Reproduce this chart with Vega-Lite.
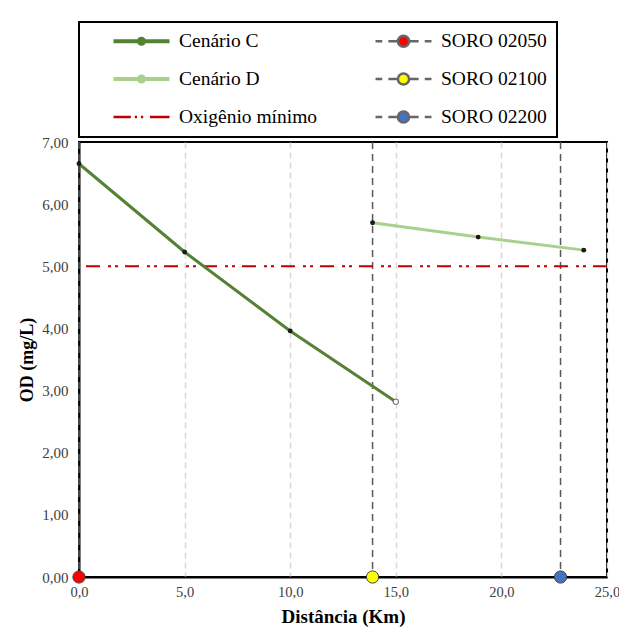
{
  "$schema": "https://vega.github.io/schema/vega-lite/v6.json",
  "width": 528,
  "height": 435,
  "autosize": {"type": "none"},
  "padding": {"left": 79, "top": 142, "right": 12, "bottom": 55},
  "background": "#ffffff",
  "datasets": {
    "cenarios": [
      {"serie": "Cenário C", "km": 0, "od": 6.65},
      {"serie": "Cenário C", "km": 5, "od": 5.23},
      {"serie": "Cenário C", "km": 10, "od": 3.96},
      {"serie": "Cenário C", "km": 15, "od": 2.82},
      {"serie": "Cenário D", "km": 13.9, "od": 5.70},
      {"serie": "Cenário D", "km": 18.9, "od": 5.47},
      {"serie": "Cenário D", "km": 23.9, "od": 5.26}
    ],
    "estacoes": [
      {"serie": "SORO 02050", "km": 0, "od": 0},
      {"serie": "SORO 02100", "km": 13.9, "od": 0},
      {"serie": "SORO 02200", "km": 22.8, "od": 0}
    ],
    "minimo": [{"serie": "Oxigênio mínimo", "od": 5}],
    "legenda": [
      {"serie": "Cenário C"},
      {"serie": "Cenário D"},
      {"serie": "Oxigênio mínimo"},
      {"serie": "SORO 02050"},
      {"serie": "SORO 02100"},
      {"serie": "SORO 02200"}
    ]
  },
  "layer": [
    {
      "data": {"name": "estacoes"},
      "mark": {"type": "rule", "color": "#595959", "strokeWidth": 1.5, "strokeDash": [7, 5]},
      "encoding": {
        "x": {
          "field": "km", "type": "quantitative",
          "scale": {"domain": [0, 25], "nice": false, "zero": false},
          "axis": {
            "values": [0, 5, 10, 15, 20, 25],
            "labelExpr": "replace(format(datum.value, '.1f'), '.', ',')",
            "title": "Distância (Km)",
            "titleFontSize": 19,
            "labelFontSize": 14.5,
            "grid": true, "gridColor": "#d9d9d9", "gridDash": [6, 4], "gridWidth": 1.5,
            "ticks": false, "domainColor": "#000000", "domainWidth": 2,
            "labelFlush": false,
            "labelPadding": 8, "titlePadding": 9
          }
        }
      }
    },
    {
      "data": {"name": "minimo"},
      "mark": {"type": "rule", "color": "#c00000", "strokeWidth": 2, "strokeDash": [14, 7, 3, 4, 3, 8]},
      "encoding": {
        "y": {
          "field": "od", "type": "quantitative",
          "scale": {"domain": [0, 7], "nice": false},
          "axis": {
            "values": [0, 1, 2, 3, 4, 5, 6, 7],
            "labelExpr": "replace(format(datum.value, '.2f'), '.', ',')",
            "title": "OD (mg/L)",
            "titleFontSize": 18,
            "grid": false, "ticks": false, "domainColor": "#000000", "domainWidth": 2,
            "labelFlush": false,
            "labelPadding": 11, "titlePadding": 5
          }
        }
      }
    },
    {
      "data": {"name": "cenarios"},
      "mark": {"type": "line", "strokeWidth": 3},
      "encoding": {
        "x": {"field": "km", "type": "quantitative"},
        "y": {"field": "od", "type": "quantitative"},
        "color": {
          "field": "serie", "type": "nominal",
          "scale": {
            "domain": ["Cenário C", "Cenário D", "SORO 02050", "SORO 02100", "SORO 02200"],
            "range": ["#548235", "#a9d18e", "#ff0000", "#ffff00", "#4472c4"]
          },
          "legend": null
        }
      }
    },
    {
      "data": {"name": "cenarios"},
      "transform": [{"filter": "!(datum.serie == 'Cenário C' && datum.km == 15)"}],
      "mark": {"type": "point", "filled": true, "opacity": 1, "color": "#1a1a1a", "size": 24},
      "encoding": {
        "x": {"field": "km", "type": "quantitative"},
        "y": {"field": "od", "type": "quantitative"}
      }
    },
    {
      "data": {"name": "cenarios"},
      "transform": [{"filter": "datum.serie == 'Cenário C' && datum.km == 15"}],
      "mark": {"type": "point", "filled": true, "opacity": 1, "fill": "#ffffff", "stroke": "#595959", "strokeWidth": 1, "size": 30},
      "encoding": {
        "x": {"field": "km", "type": "quantitative"},
        "y": {"field": "od", "type": "quantitative"}
      }
    },
    {
      "data": {"name": "estacoes"},
      "mark": {"type": "point", "filled": true, "opacity": 1, "stroke": "#404040", "strokeWidth": 1, "size": 150},
      "encoding": {
        "x": {"field": "km", "type": "quantitative"},
        "y": {"field": "od", "type": "quantitative"},
        "color": {
          "field": "serie", "type": "nominal",
          "scale": {
            "domain": ["Cenário C", "Cenário D", "SORO 02050", "SORO 02100", "SORO 02200"],
            "range": ["#548235", "#a9d18e", "#ff0000", "#ffff00", "#4472c4"]
          },
          "legend": null
        }
      }
    },
    {
      "data": {"name": "legenda"},
      "transform": [{"filter": "false"}],
      "mark": {"type": "point", "filled": true, "opacity": 1},
      "encoding": {
        "shape": {
          "field": "serie", "type": "nominal",
          "scale": {
            "domain": ["Cenário C", "Cenário D", "Oxigênio mínimo", "SORO 02050", "SORO 02100", "SORO 02200"],
            "range": [
              "M-1,-0.03H1M-1,0.03H1M0.12,0A0.12,0.12,0,1,1,-0.12,0A0.12,0.12,0,1,1,0.12,0Z",
              "M-1,-0.03H1M-1,0.03H1M0.12,0A0.12,0.12,0,1,1,-0.12,0A0.12,0.12,0,1,1,0.12,0Z",
              "M-1,0H-0.38M-0.24,0H-0.16M-0.02,0H0.06M0.3,0H1",
              "M-1,0H-0.76M-0.54,0H-0.2M0.2,0H0.54M0.76,0H1M0.2,0A0.2,0.2,0,1,1,-0.2,0A0.2,0.2,0,1,1,0.2,0Z",
              "M-1,0H-0.76M-0.54,0H-0.2M0.2,0H0.54M0.76,0H1M0.2,0A0.2,0.2,0,1,1,-0.2,0A0.2,0.2,0,1,1,0.2,0Z",
              "M-1,0H-0.76M-0.54,0H-0.2M0.2,0H0.54M0.76,0H1M0.2,0A0.2,0.2,0,1,1,-0.2,0A0.2,0.2,0,1,1,0.2,0Z"
            ]
          },
          "legend": {
            "title": " ",
            "titleOrient": "left",
            "titleFontSize": 1,
            "titlePadding": 23,
            "orient": "none",
            "legendX": 0,
            "legendY": -120,
            "columns": 2,
            "gridAlign": "all",
            "columnPadding": 56,
            "rowPadding": 18,
            "symbolSize": 3136,
            "symbolStrokeWidth": 2.5,
            "clipHeight": 18,
            "labelFont": "Times New Roman, Liberation Serif, serif",
            "labelFontSize": 19.5,
            "labelColor": "#000000",
            "labelOffset": 8,
            "labelLimit": 300,
            "strokeColor": "#000000",
            "padding": 10
          }
        },
        "stroke": {
          "field": "serie", "type": "nominal",
          "scale": {
            "domain": ["Cenário C", "Cenário D", "Oxigênio mínimo", "SORO 02050", "SORO 02100", "SORO 02200"],
            "range": ["#548235", "#a9d18e", "#c00000", "#666666", "#666666", "#666666"]
          }
        },
        "fill": {
          "field": "serie", "type": "nominal",
          "scale": {
            "domain": ["Cenário C", "Cenário D", "Oxigênio mínimo", "SORO 02050", "SORO 02100", "SORO 02200"],
            "range": ["#262626", "#262626", "#c00000", "#ff0000", "#ffff00", "#4472c4"]
          }
        }
      }
    }
  ],
  "config": {
    "view": {"stroke": "#000000", "strokeWidth": 2},
    "axis": {
      "labelFont": "Times New Roman, Liberation Serif, serif",
      "labelFontSize": 15,
      "labelColor": "#404040",
      "titleFont": "Times New Roman, Liberation Serif, serif",
      "titleFontWeight": "bold",
      "titleColor": "#000000"
    },
    "legend": {"strokeWidth": 2}
  }
}
